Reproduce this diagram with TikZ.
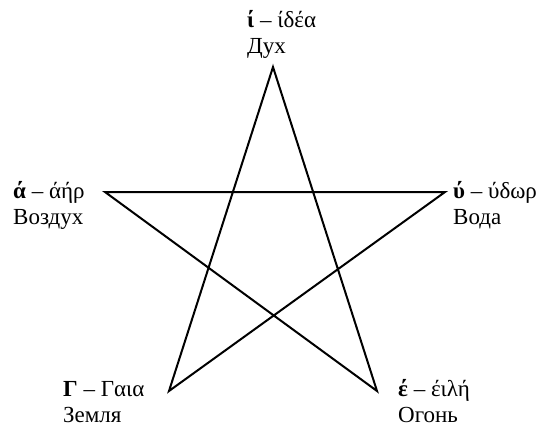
\documentclass[tikz,border=0pt]{standalone}
\usepackage{fontspec}
\setmainfont{Liberation Serif}
\usetikzlibrary{positioning}
\begin{document}
\begin{tikzpicture}[x=1pt,y=-1pt,
		lbl/.style={align=left,inner sep=0pt,anchor=base west,font=\fontsize{23}{26}\selectfont},
		edge/.style={line width=2pt,line join=miter}
		]
		\useasboundingbox (0,0) rectangle (551,429);
		% star vertices
		\coordinate (top) at (273,67);
		\coordinate (left) at (105,192);
		\coordinate (right) at (445,192);
		\coordinate (botl) at (169,391);
		\coordinate (botr) at (377,391);
		%%%%%%%%%%%%%%% labels (anchored at the baseline of the second line)
		\node[lbl] (idea) at (247,53) {\textbf{ί} – ίδέα\\Дух};
		\node[lbl] (aer) at (13,224) {\textbf{ά} – άήρ\\Воздух};
		\node[lbl] (hydor) at (453,224) {\textbf{ύ} – ύδωρ\\Вода};
		\node[lbl] (gaia) at (63,422) {\textbf{Γ} – Γαια\\Земля};
		\node[lbl] (eile) at (398,422) {\textbf{έ} – έιλή\\Огонь};
		%%%%%%%%%%%%%%%
		\draw[edge] (top) -- (botl) -- (right) -- (left) -- (botr) -- cycle;
	\end{tikzpicture}
\end{document}
